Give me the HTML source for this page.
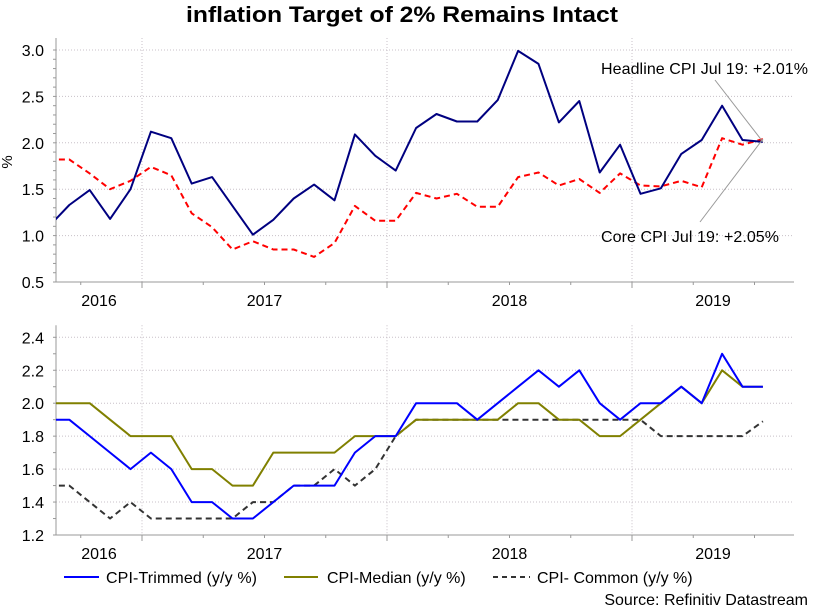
<!DOCTYPE html>
<html><head><meta charset="utf-8"><style>
body{margin:0;background:#fff;}
svg{display:block;font-family:"Liberation Sans",Arial,sans-serif;}
</style></head><body>
<svg id="c" width="819" height="608" viewBox="0 0 819 608">
<text x="402" y="22" text-anchor="middle" font-size="22" font-weight="bold" textLength="432" lengthAdjust="spacingAndGlyphs">inflation Target of 2% Remains Intact</text>
<defs>
<clipPath id="cp1"><rect x="56" y="30" width="738" height="260"/></clipPath>
<clipPath id="cp2"><rect x="56" y="320" width="738" height="220"/></clipPath>
</defs>
<g id="top"></g>
<g id="bot"></g>
<text x="12" y="162" font-size="15" text-anchor="middle" transform="rotate(-90 12 162)">%</text>
<text x="601" y="74" font-size="16" textLength="207">Headline CPI Jul 19: +2.01%</text>
<text x="601" y="242" font-size="16" textLength="178">Core CPI Jul 19: +2.05%</text>
<g>
<line x1="64" y1="577" x2="99" y2="577" stroke="#0000ff" stroke-width="2"/>
<text x="106" y="583" font-size="16" textLength="151">CPI-Trimmed (y/y %)</text>
<line x1="284" y1="577" x2="318" y2="577" stroke="#808000" stroke-width="2"/>
<text x="327" y="583" font-size="16">CPI-Median (y/y %)</text>
<line x1="493" y1="577" x2="530" y2="577" stroke="#333" stroke-width="2" stroke-dasharray="5,4"/>
<text x="537" y="583" font-size="16">CPI- Common (y/y %)</text>
</g>
<text x="808" y="605" font-size="16" text-anchor="end">Source: Refinitiv Datastream</text>
</svg>
<script>
// months Aug 2016 .. Jul 2019
const headline = [1.10,1.33,1.49,1.18,1.50,2.12,2.05,1.56,1.63,1.32,1.01,1.17,1.40,1.55,1.38,2.09,1.86,1.70,2.16,2.31,2.23,2.23,2.46,2.99,2.85,2.22,2.45,1.68,1.98,1.45,1.51,1.88,2.03,2.40,2.03,2.01];
const core = [1.82,1.82,1.67,1.50,1.59,1.74,1.65,1.24,1.09,0.85,0.94,0.85,0.85,0.77,0.92,1.32,1.16,1.16,1.46,1.40,1.45,1.31,1.31,1.63,1.68,1.54,1.61,1.46,1.67,1.54,1.53,1.59,1.52,2.05,1.98,2.04];
const trimmed = [1.9,1.9,1.8,1.7,1.6,1.7,1.6,1.4,1.4,1.3,1.3,1.4,1.5,1.5,1.5,1.7,1.8,1.8,2.0,2.0,2.0,1.9,2.0,2.1,2.2,2.1,2.2,2.0,1.9,2.0,2.0,2.1,2.0,2.3,2.1,2.1];
const median = [2.0,2.0,2.0,1.9,1.8,1.8,1.8,1.6,1.6,1.5,1.5,1.7,1.7,1.7,1.7,1.8,1.8,1.8,1.9,1.9,1.9,1.9,1.9,2.0,2.0,1.9,1.9,1.8,1.8,1.9,2.0,2.1,2.0,2.2,2.1,2.1];
const common = [1.5,1.5,1.4,1.3,1.4,1.3,1.3,1.3,1.3,1.3,1.4,1.4,1.5,1.5,1.6,1.5,1.6,1.8,1.9,1.9,1.9,1.9,1.9,1.9,1.9,1.9,1.9,1.9,1.9,1.9,1.8,1.8,1.8,1.8,1.8,1.89];
const topTicks = [0.5,1.0,1.5,2.0,2.5,3.0];
const botTicks = [1.2,1.4,1.6,1.8,2.0,2.2,2.4];
const years = ["2016","2017","2018","2019"];

const NS="http://www.w3.org/2000/svg";
const X0=56, X1=794;
const xIdx = i => 48.9 + i*20.4;
const yearGrid = [142-245,142,387,632];
function mk(p,t,a){const e=document.createElementNS(NS,t);for(const k in a)e.setAttribute(k,a[k]);p.appendChild(e);return e;}
function panel(g,yTop,yBot,vMin,vMax,ticks,dec,minorStep){
  const y=v=>yBot-(v-vMin)/(vMax-vMin)*(yBot-yTop);
  ticks.forEach(t=>{
    const gl=mk(g,'line',{x1:X0,x2:X1,y1:y(t),y2:y(t),stroke:'#c8c0c8','stroke-dasharray':'1,2'});
    
    
    const tx=mk(g,'text',{x:44,y:y(t)+6,'text-anchor':'end','font-size':16});
    tx.textContent=t.toFixed(dec);
    
    
  });
  for(let v=vMin;v<=vMax+1e-9;v+=minorStep){mk(g,'line',{x1:X0-3,x2:X0,y1:y(v),y2:y(v),stroke:'#999'});}
  yearGrid.forEach(x=>{ if(x>X0) mk(g,'line',{x1:x,x2:x,y1:yTop-12,y2:yBot,stroke:'#c8c0c8','stroke-dasharray':'1,2'}); });
  for(let q=0;q<16;q++){const x=yearGrid[0]+q*61.25; if(x>X0&&x<X1) mk(g,'line',{x1:x,x2:x,y1:yBot,y2:yBot+(q%4==0?6:3),stroke:'#999'});}
  years.forEach((yr,i)=>{
    const a=Math.max(yearGrid[i],X0), b=Math.min(yearGrid[i]+245,X1);
    const tx=mk(g,'text',{x:(a+b)/2,y:yBot+24,'text-anchor':'middle','font-size':16});
    tx.textContent=yr;
    
    
  });
  mk(g,'line',{x1:X0,x2:X0,y1:yTop-12,y2:yBot,stroke:'#999'});
  mk(g,'line',{x1:X0,x2:X1,y1:yBot,y2:yBot,stroke:'#999'});
  return y;
}
function series(g,arr,y,clip,attrs,name){
  const d=arr.map((v,i)=>(i?'L':'M')+xIdx(i).toFixed(1)+','+y(v).toFixed(1)).join('');
  const p=mk(g,'path',Object.assign({d:d,fill:'none','clip-path':'url(#'+clip+')','stroke-linejoin':'round'},attrs));
  
  
}
const gt=document.getElementById('top'), gb=document.getElementById('bot');
const yt=panel(gt,50,282,0.5,3.0,topTicks,1,0.1);
series(gt,core,yt,'cp1',{stroke:'#ff0000','stroke-width':2,'stroke-dasharray':'6,4'},'core-cpi-line');
series(gt,headline,yt,'cp1',{stroke:'#000080','stroke-width':2},'headline-cpi-line');
const last=headline.length-1;
mk(gt,'line',{x1:715,y1:80,x2:xIdx(last),y2:yt(headline[last]),stroke:'#999'});
mk(gt,'line',{x1:700,y1:222,x2:xIdx(last),y2:yt(core[last]),stroke:'#999'});
const yb=panel(gb,337.3,535,1.2,2.4,botTicks,1,0.1);
series(gb,common,yb,'cp2',{stroke:'#333','stroke-width':2,'stroke-dasharray':'6,4'},'cpi-common-line');
series(gb,median,yb,'cp2',{stroke:'#808000','stroke-width':2},'cpi-median-line');
series(gb,trimmed,yb,'cp2',{stroke:'#0000ff','stroke-width':2},'cpi-trimmed-line');
</script>
</body></html>
